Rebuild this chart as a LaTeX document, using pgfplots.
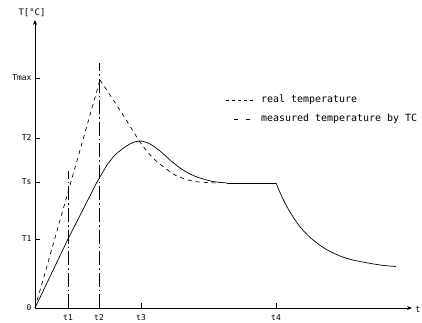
\documentclass[border=0pt]{standalone}
\usepackage{pgfplots}
\pgfplotsset{compat=1.18}
\usetikzlibrary{arrows.meta}
\usepackage{fontspec}
\setmainfont{DejaVu Sans Mono}
\begin{document}
\begin{tikzpicture}
\begin{axis}[
  x=1bp, y=1bp,
  xmin=0, xmax=377, ymin=0, ymax=288,
  enlargelimits=false, clip=false,
  axis lines=left,
  axis line style={line width=0.9pt, -{Stealth[length=5bp,width=4bp]}},
  xtick={33,64,106,241}, xticklabels={t1,t2,t3,t4},
  ytick={0,69,126,170,230}, yticklabels={0,T1,Ts,T2,Tmax},
  tick align=inside, major tick length=5bp,
  tick style={line width=0.8pt, black},
  ticklabel style={font=\fontsize{8}{9}\selectfont},
  xticklabel style={yshift=-3bp},
]
% real temperature
\addplot[black, line width=0.7pt, dash pattern=on 4bp off 4bp]
  coordinates {(0,0)(65,228)};
\addplot[black, line width=0.7pt, dash pattern=on 4bp off 4bp, smooth, tension=0.5]
  coordinates {(65,228)(75,213)(90,190)(105,166)(118,150)(130,140)(140,133)(150,129)(160,126.5)(175,125.3)(185,125)};
% measured temperature
\addplot[black, line width=0.7pt] coordinates {(0,0)(33,69)(62,126)(72,143)};
\addplot[black, line width=0.7pt, smooth, tension=0.5]
  coordinates {(72,143)(80,153)(90,161)(98,165.5)(106,167)(115,164)(125,157)(135,148)(145,140)(155,134)(165,130)(178,126.5)(192,125)};
\addplot[black, line width=0.7pt] coordinates {(192,125)(241,125)};
\addplot[black, line width=0.7pt, smooth, tension=0.5]
  coordinates {(241,125)(244,117.8)(248,109)(253,99.4)(259,89.6)(266,80)(276,69.7)(290,59.4)(305,52)(320,47.5)(345,43)(361,41.5)};
% vertical time markers
\addplot[black, line width=0.7pt, dash pattern=on 14bp off 3bp on 1.5bp off 3bp]
  coordinates {(33,0)(33,137)};
\addplot[black, line width=0.7pt, dash pattern=on 14bp off 3bp on 1.5bp off 3bp]
  coordinates {(64,0)(64,245)};
% legend
\addplot[black, line width=0.7pt, dash pattern=on 3bp off 3bp]
  coordinates {(191,208)(218,208)};
\addplot[black, line width=0.7pt, dash pattern=on 4bp off 8bp, dash phase=4bp]
  coordinates {(191,189)(218,189)};
\node[font=\fontsize{10}{12}\selectfont, anchor=west, inner sep=0pt] at (axis cs:226,208) {real temperature};
\node[font=\fontsize{10}{12}\selectfont, anchor=west, inner sep=0pt] at (axis cs:226,189) {measured temperature by TC};
\node[font=\fontsize{9}{10}\selectfont] at (axis cs:-3,295) {T[°C]};
\node[font=\fontsize{9}{10}\selectfont, anchor=west, inner sep=0pt] at (axis cs:380,-1) {t};
\coordinate (bbsw) at (axis cs:-35,-15);
\coordinate (bbne) at (axis cs:387,308);
\end{axis}
\pgfresetboundingbox
\useasboundingbox (bbsw) rectangle (bbne);
\end{tikzpicture}
\end{document}
